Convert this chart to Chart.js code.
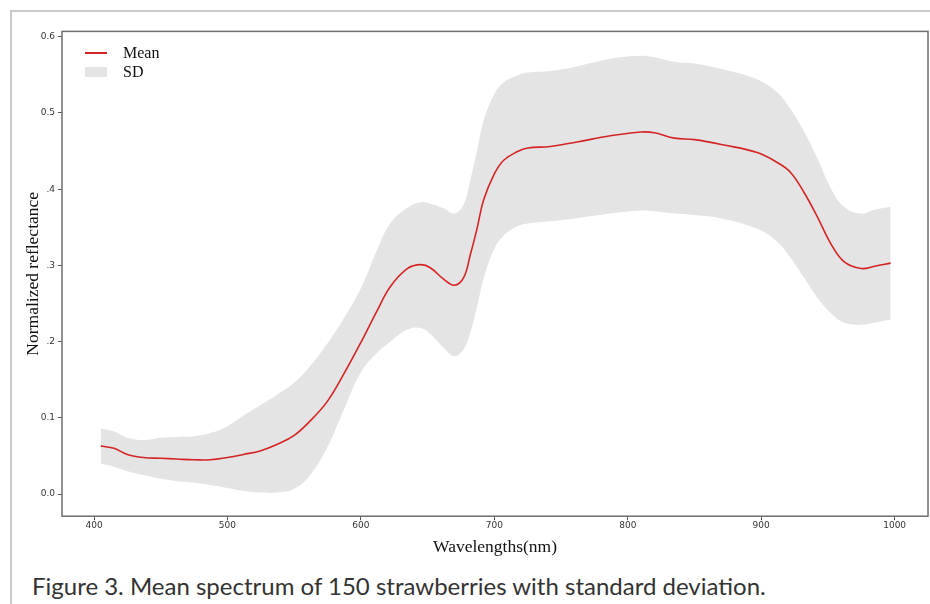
<!DOCTYPE html>
<html lang="en">
<head>
  <meta charset="UTF-8">
  <title>Mean spectrum</title>
  <script src="https://cdn.jsdelivr.net/npm/chart.js"></script>
  <style>
    body {
      margin: 0;
      background: #fff;
      width: 930px;
      height: 604px;
      overflow: hidden;
      position: relative;
    }
    .frame {
      position: absolute;
      left: 10px;
      top: 10px;
      width: 940px;
      height: 620px;
      border-top: 2px solid #c9c9c9;
      border-left: 2px solid #c9c9c9;
    }
    .chart-box {
      position: absolute;
      left: 0;
      top: 23px;
      width: 930px;
      height: 539px;
    }
    .legend {
      position: absolute;
      left: 85px;
      top: 43px;
      font-family: "Liberation Serif", serif;
      font-size: 16px;
      color: #111;
    }
    .legend-item {
      display: flex;
      align-items: center;
      height: 19px;
    }
    .legend-swatch {
      width: 22px;
      margin-right: 16px;
    }
    .caption {
      position: absolute;
      left: 32px;
      top: 571px;
      font-family: Lato, sans-serif;
      font-size: 24px;
      color: #333;
    }
  </style>
</head>
<body>
  <div class="frame"></div>
  <div class="chart-box">
    <canvas id="spectrumChart" width="930" height="539"></canvas>
  </div>
  <div class="legend" id="chartLegend"></div>
  <div class="caption">Figure 3. Mean spectrum of 150 strawberries with standard deviation.</div>

  <script>
    // wavelengths (nm)
    const wavelengths = [405, 415, 425, 437, 450, 462, 475, 487, 500, 512, 525, 537, 550, 562, 575, 587,
      600, 612, 622, 635, 645, 652, 662, 670, 677, 682, 687, 692, 700, 707, 717, 725, 742, 762, 787,
      810, 820, 835, 850, 872, 897, 912, 922, 932, 942, 952, 962, 975, 985, 997];

    const meanValues = [0.063, 0.060, 0.052, 0.048, 0.047, 0.046, 0.045, 0.045, 0.048, 0.052, 0.057, 0.065,
      0.077, 0.096, 0.122, 0.157, 0.199, 0.240, 0.272, 0.296, 0.301, 0.297, 0.282, 0.274, 0.284, 0.314,
      0.348, 0.386, 0.420, 0.438, 0.449, 0.454, 0.456, 0.462, 0.470, 0.475, 0.474, 0.467, 0.465, 0.458,
      0.448, 0.435, 0.422, 0.396, 0.364, 0.329, 0.305, 0.296, 0.299, 0.303];

    const upperValues = [0.086, 0.082, 0.074, 0.071, 0.074, 0.075, 0.076, 0.080, 0.089, 0.103, 0.117, 0.130,
      0.146, 0.168, 0.198, 0.230, 0.270, 0.320, 0.355, 0.376, 0.383, 0.381, 0.375, 0.368, 0.380, 0.412,
      0.450, 0.490, 0.525, 0.540, 0.549, 0.553, 0.555, 0.561, 0.571, 0.575, 0.573, 0.567, 0.565, 0.557,
      0.544, 0.527, 0.505, 0.476, 0.441, 0.402, 0.377, 0.368, 0.373, 0.377];

    const lowerValues = [0.040, 0.036, 0.030, 0.025, 0.020, 0.017, 0.015, 0.012, 0.008, 0.004, 0.002, 0.002,
      0.007, 0.025, 0.062, 0.110, 0.160, 0.185, 0.200, 0.216, 0.218, 0.210, 0.192, 0.181, 0.190, 0.212,
      0.245, 0.283, 0.322, 0.339, 0.351, 0.355, 0.358, 0.362, 0.368, 0.372, 0.371, 0.368, 0.366, 0.361,
      0.348, 0.331, 0.310, 0.284, 0.258, 0.238, 0.225, 0.222, 0.225, 0.229];

    const xTicks = [400, 500, 600, 700, 800, 900, 1000];
    const yTicks = [0.0, 0.1, 0.2, 0.3, 0.4, 0.5, 0.6];
    const yTickLabels = ['0.0', '0.1', '.2', '.3', '.4', '0.5', '0.6'];

    const toPoints = vals => vals.map((v, i) => ({ x: wavelengths[i], y: v }));

    const meanColor = '#d42424';
    const bandColor = '#e4e4e4';

    // box round the plot, like matplotlib spines
    const frameBox = {
      id: 'frameBox',
      afterDraw(chart) {
        const a = chart.chartArea;
        const c = chart.ctx;
        c.save();
        c.strokeStyle = '#6e6e6e';
        c.lineWidth = 1.5;
        c.strokeRect(a.left, a.top, a.right - a.left, a.bottom - a.top);
        c.restore();
      }
    };

    const tickFont = { family: '"DejaVu Sans", sans-serif', size: 9 };
    const titleFont = { family: '"Liberation Serif", serif', size: 17.5 };

    const ctx = document.getElementById('spectrumChart').getContext('2d');
    new Chart(ctx, {
      type: 'line',
      data: {
        datasets: [
          {
            label: 'Mean',
            data: toPoints(meanValues),
            borderColor: meanColor,
            borderWidth: 1.6,
            pointRadius: 0,
            tension: 0.4,
            fill: false
          },
          {
            label: 'SD',
            data: toPoints(upperValues),
            borderWidth: 0,
            borderColor: 'rgba(0,0,0,0)',
            backgroundColor: bandColor,
            pointRadius: 0,
            tension: 0.4,
            fill: '+1'
          },
          {
            label: 'SD lower',
            data: toPoints(lowerValues),
            borderWidth: 0,
            borderColor: 'rgba(0,0,0,0)',
            pointRadius: 0,
            tension: 0.4,
            fill: false
          }
        ]
      },
      options: {
        responsive: false,
        animation: false,
        layout: { padding: { left: 19, right: 2, top: 0, bottom: 0 } },
        plugins: {
          legend: { display: false },
          tooltip: { enabled: false }
        },
        scales: {
          x: {
            type: 'linear',
            min: 376,
            max: 1025,
            afterBuildTicks: axis => { axis.ticks = xTicks.map(v => ({ value: v })); },
            ticks: { font: tickFont, color: '#333', padding: 0, maxRotation: 0, callback: v => String(v) },
            grid: { display: true, drawOnChartArea: false, tickLength: 4, color: '#555' },
            border: { display: false },
            title: { display: true, text: 'Wavelengths(nm)', font: titleFont, color: '#111', padding: { top: 6 } }
          },
          y: {
            min: -0.029,
            max: 0.607,
            afterBuildTicks: axis => { axis.ticks = yTicks.map(v => ({ value: v })); },
            afterFit: axis => { axis.width = 43; },
            ticks: {
              font: tickFont,
              color: '#333',
              padding: 3,
              callback: (v) => {
                const i = yTicks.findIndex(t => Math.abs(t - v) < 1e-6);
                return i >= 0 ? yTickLabels[i] : '';
              }
            },
            grid: { display: true, drawOnChartArea: false, tickLength: 4, color: '#555' },
            border: { display: false },
            title: { display: true, text: 'Normalized reflectance', font: titleFont, color: '#111', padding: { bottom: 0 } }
          }
        }
      },
      plugins: [frameBox]
    });

    // custom legend
    const legendContainer = document.getElementById('chartLegend');
    [['Mean', 'line'], ['SD', 'box']].forEach(([label, kind]) => {
      const item = document.createElement('div');
      item.classList.add('legend-item');
      const sw = document.createElement('div');
      sw.classList.add('legend-swatch');
      if (kind === 'line') {
        sw.style.height = '2px';
        sw.style.backgroundColor = meanColor;
      } else {
        sw.style.height = '10px';
        sw.style.backgroundColor = bandColor;
      }
      const txt = document.createElement('span');
      txt.textContent = label;
      item.appendChild(sw);
      item.appendChild(txt);
      legendContainer.appendChild(item);
    });
  </script>
</body>
</html>
